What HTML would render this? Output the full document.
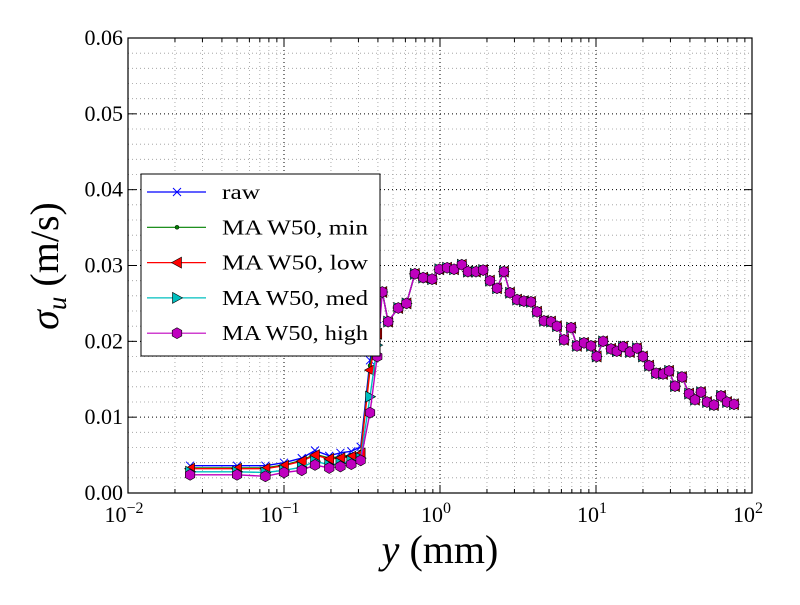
<!DOCTYPE html>
<html><head><meta charset="utf-8"><style>
body{margin:0;background:#fff}
svg text{font-family:"Liberation Serif","DejaVu Serif",serif}
</style></head><body>
<svg id="chart" width="800" height="600" viewBox="0 0 800 600" xmlns="http://www.w3.org/2000/svg">
<rect width="800" height="600" fill="#fff"/>
<g id="grid"></g>
<g id="series"></g>
<rect x="128" y="38" width="624" height="455" fill="none" stroke="#000" stroke-width="1.2"/>
<g id="ticks"></g>
<text x="440" y="563" font-size="40" text-anchor="middle"><tspan font-style="italic">y</tspan> (mm)</text>
<text transform="translate(58,266) rotate(-90)" font-size="40" text-anchor="middle"><tspan font-style="italic">σ</tspan><tspan font-style="italic" font-size="27" dy="8">u</tspan><tspan dy="-8"> (m/s)</tspan></text>
<g id="legend"></g>
</svg>
<script>
const xHead = [0.025,0.05,0.076,0.1,0.13,0.158,0.195,0.23,0.27,0.31,0.356,0.396];
const rawHead = [0.0036,0.0036,0.0036,0.0040,0.0046,0.0056,0.0049,0.0053,0.0055,0.0061,0.0175,0.0220];
const minHead = [0.0033,0.0033,0.0033,0.0037,0.0043,0.0051,0.0046,0.0048,0.0050,0.0054,0.0168,0.0212];
const lowHead = [0.0032,0.0032,0.0032,0.0036,0.0042,0.0050,0.0045,0.0046,0.0048,0.0052,0.0162,0.0210];
const medHead = [0.0028,0.0028,0.0027,0.0030,0.0034,0.0042,0.0037,0.0039,0.0042,0.0046,0.0127,0.0195];
const highHead = [0.0024,0.0024,0.0022,0.0027,0.0030,0.0037,0.0033,0.0035,0.0038,0.0043,0.0106,0.0180];
const xTail = [0.427,0.465,0.54,0.61,0.69,0.78,0.89,0.99,1.11,1.23,1.38,1.51,1.70,1.89,2.09,2.32,2.57,2.81,3.12,3.45,3.83,4.19,4.64,5.15,5.62,6.24,6.92,7.55,8.38,9.29,10.1,11.1,12.5,13.6,14.9,16.5,18.3,20.0,21.9,24.3,26.9,29.4,32.1,35.6,39.5,43.1,47.1,51.5,57.0,63.3,69.2,76.7];
const tailValues = [0.0265,0.0226,0.0244,0.0250,0.0289,0.0284,0.0282,0.0295,0.0297,0.0295,0.0301,0.0292,0.0292,0.0294,0.0280,0.0270,0.0292,0.0264,0.0255,0.0253,0.0252,0.0239,0.0227,0.0226,0.0220,0.0202,0.0218,0.0194,0.0198,0.0194,0.0180,0.0200,0.0190,0.0187,0.0193,0.0186,0.0191,0.0180,0.0168,0.0158,0.0157,0.0161,0.0141,0.0153,0.0131,0.0123,0.0133,0.0120,0.0116,0.0128,0.0120,0.0117];
const seriesNames = ["raw","MA W50, min","MA W50, low","MA W50, med","MA W50, high"];
const seriesColors = ["#0000ff","#008000","#ff0000","#00bfbf","#bf00bf"];
const yTickLabels = ["0.00","0.01","0.02","0.03","0.04","0.05","0.06"];
const xTickExps = [-2,-1,0,1,2];

const NS="http://www.w3.org/2000/svg";
const L=128,R=752,T=38,B=493;
const xs=v=>L+(Math.log10(v)+2)/4*(R-L);
const ys=v=>B-v/0.06*(B-T);
function mk(tag,attrs,parent){const e=document.createElementNS(NS,tag);for(const k in attrs)e.setAttribute(k,attrs[k]);parent.appendChild(e);return e;}
const grid=document.getElementById('grid'),ticks=document.getElementById('ticks'),ser=document.getElementById('series'),leg=document.getElementById('legend');

for(let d=-2;d<2;d++){for(let m=1;m<10;m++){const v=m*Math.pow(10,d);const x=xs(v);
 const ln=mk('line',{x1:x,x2:x,y1:T,y2:B,stroke:m==1?'#000':'#999','stroke-width':m==1?1:0.8,'stroke-dasharray':'1,3'},grid);
 
 
 const t1=mk('line',{x1:x,x2:x,y1:B,y2:B-(m==1?8:4),stroke:'#000'},ticks);
 
 
 const t2=mk('line',{x1:x,x2:x,y1:T,y2:T+(m==1?8:4),stroke:'#000'},ticks);
 
 
}}
for(let i=1;i<30;i++){const v=i*0.002;const y=ys(v);const major=i%5==0;
 const ln=mk('line',{x1:L,x2:R,y1:y,y2:y,stroke:major?'#000':'#999','stroke-width':major?1:0.8,'stroke-dasharray':'1,3'},grid);
 
 
}
yTickLabels.forEach((lab,i)=>{const y=ys(i*0.01);
 const t1=mk('line',{x1:L,x2:L+8,y1:y,y2:y,stroke:'#000'},ticks);
 
 
 const t2=mk('line',{x1:R,x2:R-8,y1:y,y2:y,stroke:'#000'},ticks);
 
 
 const tx=mk('text',{x:L-5,y:y+7,'font-size':22,'text-anchor':'end'},ticks);
 tx.textContent=lab;
 
 
});
xTickExps.forEach(e=>{const x=xs(Math.pow(10,e));
 const tx=mk('text',{x:x-4,y:522,'font-size':22,'text-anchor':'middle'},ticks);
 tx.innerHTML='10<tspan font-size="16" dy="-9">'+(e<0?'−'+(-e):e)+'</tspan>';
 
 
});

function marker(k,x,y,c,parent){let e;
 if(k==0){e=mk('path',{d:`M${x-4},${y-4}L${x+4},${y+4}M${x-4},${y+4}L${x+4},${y-4}`,stroke:c,'stroke-width':1,fill:'none'},parent);}
 else if(k==1){e=mk('circle',{cx:x,cy:y,r:2,fill:c,stroke:'#000','stroke-width':0.5},parent);}
 else if(k==2){e=mk('path',{d:`M${x-5.5},${y}L${x+4.5},${y-5.5}L${x+4.5},${y+5.5}Z`,fill:c,stroke:'#000','stroke-width':0.6},parent);}
 else if(k==3){e=mk('path',{d:`M${x+5.5},${y}L${x-4.5},${y-5.5}L${x-4.5},${y+5.5}Z`,fill:c,stroke:'#000','stroke-width':0.6},parent);}
 else {let p=[];for(let i=0;i<6;i++){const a=-Math.PI/2+i*2*Math.PI/6;p.push((x+5.5*Math.cos(a)).toFixed(1)+','+(y+5.5*Math.sin(a)).toFixed(1));}
  e=mk('polygon',{points:p.join(' '),fill:c,stroke:'#000','stroke-width':0.6},parent);}
 return e;}

const heads=[rawHead,minHead,lowHead,medHead,highHead];
const xAll=xHead.concat(xTail);
heads.forEach((h,k)=>{const vals=h.concat(tailValues);const c=seriesColors[k];
 const g=mk('g',{},ser);
 
 
 const pts=xAll.map((x,i)=>xs(x).toFixed(1)+','+ys(vals[i]).toFixed(1)).join(' ');
 const pl=mk('polyline',{points:pts,fill:'none',stroke:c,'stroke-width':1.4},g);
 
 
 xAll.forEach((x,i)=>{const m=marker(k,xs(x),ys(vals[i]),c,g);
  
  });
});

const box=mk('rect',{x:141,y:174,width:239,height:182,fill:'#fff',stroke:'#000','stroke-width':1},leg);


seriesNames.forEach((n,k)=>{const y=192+k*35.3;const c=seriesColors[k];
 const g=mk('g',{},leg);
 
 
 mk('line',{x1:147,x2:206,y1:y,y2:y,stroke:c,'stroke-width':1.2},g);
 marker(k,177,y,c,g);
 const t=mk('text',{x:222,y:y+7,'font-size':21,textLength:n.length>3?146:38,lengthAdjust:'spacingAndGlyphs'},g);
 t.textContent=n;
});
</script>
</body></html>
